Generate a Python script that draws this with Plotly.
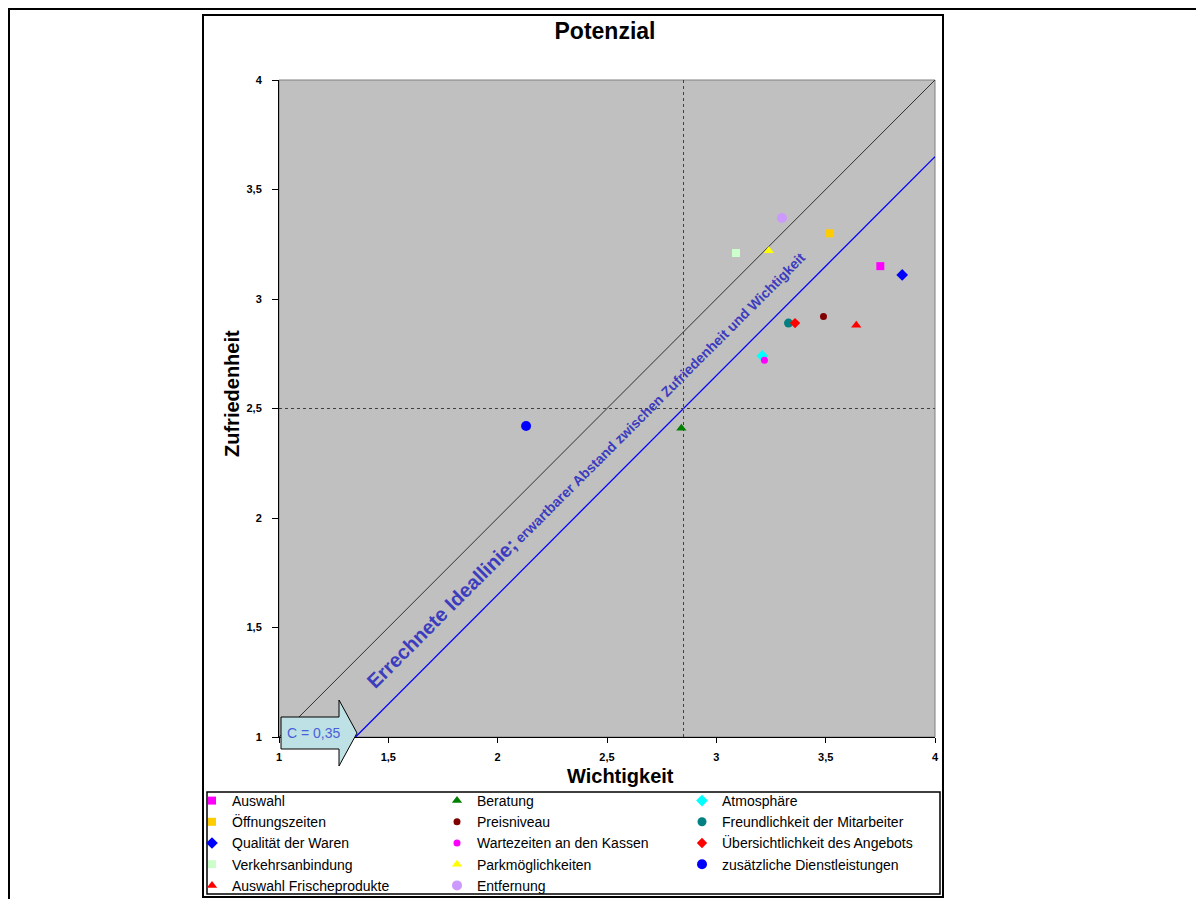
import plotly.graph_objects as go

# ---------------- data ----------------
names = ["Auswahl", "Beratung", "Atmosphäre",
         "Öffnungszeiten", "Preisniveau", "Freundlichkeit der Mitarbeiter",
         "Qualität der Waren", "Wartezeiten an den Kassen", "Übersichtlichkeit des Angebots",
         "Verkehrsanbindung", "Parkmöglichkeiten", "zusätzliche Dienstleistungen",
         "Auswahl Frischeprodukte", "Entfernung"]
wichtigkeit = [3.75, 2.84, 3.21,
               3.52, 3.49, 3.33,
               3.85, 3.22, 3.36,
               3.09, 3.24, 2.13,
               3.64, 3.30]
zufriedenheit = [3.15, 2.41, 2.74,
                 3.30, 2.92, 2.89,
                 3.11, 2.72, 2.89,
                 3.21, 3.22, 2.42,
                 2.88, 3.37]
colors = ["#FF00FF", "#008000", "#00FFFF",
          "#FFCC00", "#800000", "#008080",
          "#0000FF", "#FF00FF", "#FF0000",
          "#CCFFCC", "#FFFF00", "#0000FF",
          "#FF0000", "#CC99FF"]
symbols = ["square", "triangle-up", "diamond",
           "square", "circle", "circle",
           "diamond", "circle", "diamond",
           "square", "triangle-up", "circle",
           "triangle-up", "circle"]
sizes = [8, 9, 9,
         8, 7, 9,
         9, 7, 8,
         8, 9, 10,
         9, 10]

C = 0.35              # erwartbarer Abstand
axis_min, axis_max = 1, 4
mid = 2.5
tick_step = 0.5

FONT = "Liberation Sans, Arial, sans-serif"
OFF = 8                       # page body margin
W, H = 1188, 891
ML, MT = 271, 72
PW, PH = 656, 657
MR, MB = W - ML - PW, H - MT - PH


def px_x(px):
    """screen pixel x -> paper coordinate"""
    return (px - OFF - ML) / PW


def px_y(py):
    """screen pixel y -> paper coordinate"""
    return (MT + PH - (py - OFF)) / PH


fig = go.Figure()

# ideal line y = x
fig.add_trace(go.Scatter(x=[axis_min, axis_max], y=[axis_min, axis_max], mode="lines",
                         line=dict(color="#303030", width=1), showlegend=False, hoverinfo="skip"))
# calculated ideal line y = x - C
fig.add_trace(go.Scatter(x=[axis_min + C, axis_max], y=[axis_min, axis_max - C], mode="lines",
                         line=dict(color="#0000FF", width=1.3), showlegend=False, hoverinfo="skip"))
# crosshair
fig.add_trace(go.Scatter(x=[mid + C, mid + C], y=[axis_min, axis_max], mode="lines",
                         line=dict(color="#404040", width=1, dash="dot"), showlegend=False, hoverinfo="skip"))
fig.add_trace(go.Scatter(x=[axis_min, axis_max], y=[mid, mid], mode="lines",
                         line=dict(color="#404040", width=1, dash="dot"), showlegend=False, hoverinfo="skip"))

for n, xv, yv, c, s, sz in zip(names, wichtigkeit, zufriedenheit, colors, symbols, sizes):
    fig.add_trace(go.Scatter(x=[xv], y=[yv], mode="markers", name=n,
                             marker=dict(color=c, symbol=s, size=sz, line=dict(width=0))))

shapes = []
# outer frame
shapes.append(dict(type="rect", xref="paper", yref="paper",
                   x0=px_x(9), x1=px_x(1230), y0=px_y(930), y1=px_y(9),
                   line=dict(color="black", width=2), fillcolor="rgba(0,0,0,0)", layer="below"))
# inner chart frame
shapes.append(dict(type="rect", xref="paper", yref="paper",
                   x0=px_x(203), x1=px_x(943), y0=px_y(897), y1=px_y(15),
                   line=dict(color="black", width=2), fillcolor="white", layer="below"))
# plot area background + gray border
shapes.append(dict(type="rect", xref="paper", yref="paper", x0=0, x1=1, y0=0, y1=1,
                   line=dict(color="#808080", width=1), fillcolor="#C0C0C0", layer="below"))
# legend box
shapes.append(dict(type="rect", xref="paper", yref="paper",
                   x0=px_x(207), x1=px_x(940), y0=px_y(894), y1=px_y(792),
                   line=dict(color="black", width=1.5), fillcolor="white", layer="above"))
# arrow (C) shape
ax0, ax1, ax2 = px_x(281), px_x(339), px_x(357)
ay_tip = px_y(733)
path = (f"M {ax0},{px_y(717)} L {ax1},{px_y(717)} L {ax1},{px_y(700)} L {ax2},{ay_tip} "
        f"L {ax1},{px_y(766)} L {ax1},{px_y(749)} L {ax0},{px_y(749)} Z")
shapes.append(dict(type="path", xref="paper", yref="paper", path=path,
                   line=dict(color="black", width=1), fillcolor="#BEE1E6", layer="above"))

annotations = [
    dict(text="<b>Wichtigkeit</b>", xref="paper", yref="paper", x=px_x(620), y=px_y(776),
         showarrow=False, font=dict(size=20, color="black", family=FONT), xanchor="center", yanchor="middle"),
    dict(text="<b>Zufriedenheit</b>", xref="paper", yref="paper", x=px_x(232), y=px_y(394),
         showarrow=False, textangle=-90, font=dict(size=20, color="black", family=FONT),
         xanchor="center", yanchor="middle"),
    dict(text=("C = " + f"{C:.2f}".replace(".", ",")), xref="paper", yref="paper",
         x=px_x(314), y=px_y(733), showarrow=False,
         font=dict(size=14, color="#4A5FD8", family=FONT), xanchor="center", yanchor="middle"),
    dict(text=("<b>Errechnete Ideallinie;</b><b><span style='font-size:14px'> "
               "erwartbarer Abstand zwischen Zufriedenheit und Wichtigkeit</span></b>"),
         xref="paper", yref="paper", x=px_x(586), y=px_y(469), showarrow=False, textangle=-45,
         font=dict(size=20, color="#3C3CBE", family=FONT), xanchor="center", yanchor="middle"),
]

fig.update_layout(
    width=W, height=H,
    margin=dict(l=ML, r=MR, t=MT, b=MB, autoexpand=False),
    paper_bgcolor="white", plot_bgcolor="rgba(0,0,0,0)",
    separators=", ",
    font=dict(family=FONT, color="black"),
    title=dict(text="<b>Potenzial</b>", x=px_x(605), xref="paper", xanchor="center",
               y=1 - (31 - OFF) / H, yanchor="middle", font=dict(size=23, family=FONT, color="black")),
    xaxis=dict(range=[axis_min, axis_max], dtick=tick_step, tick0=axis_min, showgrid=False, zeroline=False,
               showline=True, linecolor="black", linewidth=1, ticks="outside", ticklen=5,
               ticklabelstandoff=5,
               tickcolor="black", tickfont=dict(size=11, family=FONT, color="black", weight="bold")),
    yaxis=dict(range=[axis_min, axis_max], dtick=tick_step, tick0=axis_min, showgrid=False, zeroline=False,
               showline=True, linecolor="black", linewidth=1, ticks="outside", ticklen=6,
               ticklabelstandoff=8,
               tickcolor="black", tickfont=dict(size=11, family=FONT, color="black", weight="bold")),
    legend=dict(orientation="h", x=px_x(192), xanchor="left", y=px_y(785), yanchor="top",
                xref="paper", yref="paper",
                entrywidth=200, entrywidthmode="pixels", itemwidth=30,
                bgcolor="rgba(0,0,0,0)", borderwidth=0,
                font=dict(size=14, family=FONT, color="black"), traceorder="normal"),
    shapes=shapes,
    annotations=annotations,
    showlegend=True,
)

fig.write_html("out.html")
